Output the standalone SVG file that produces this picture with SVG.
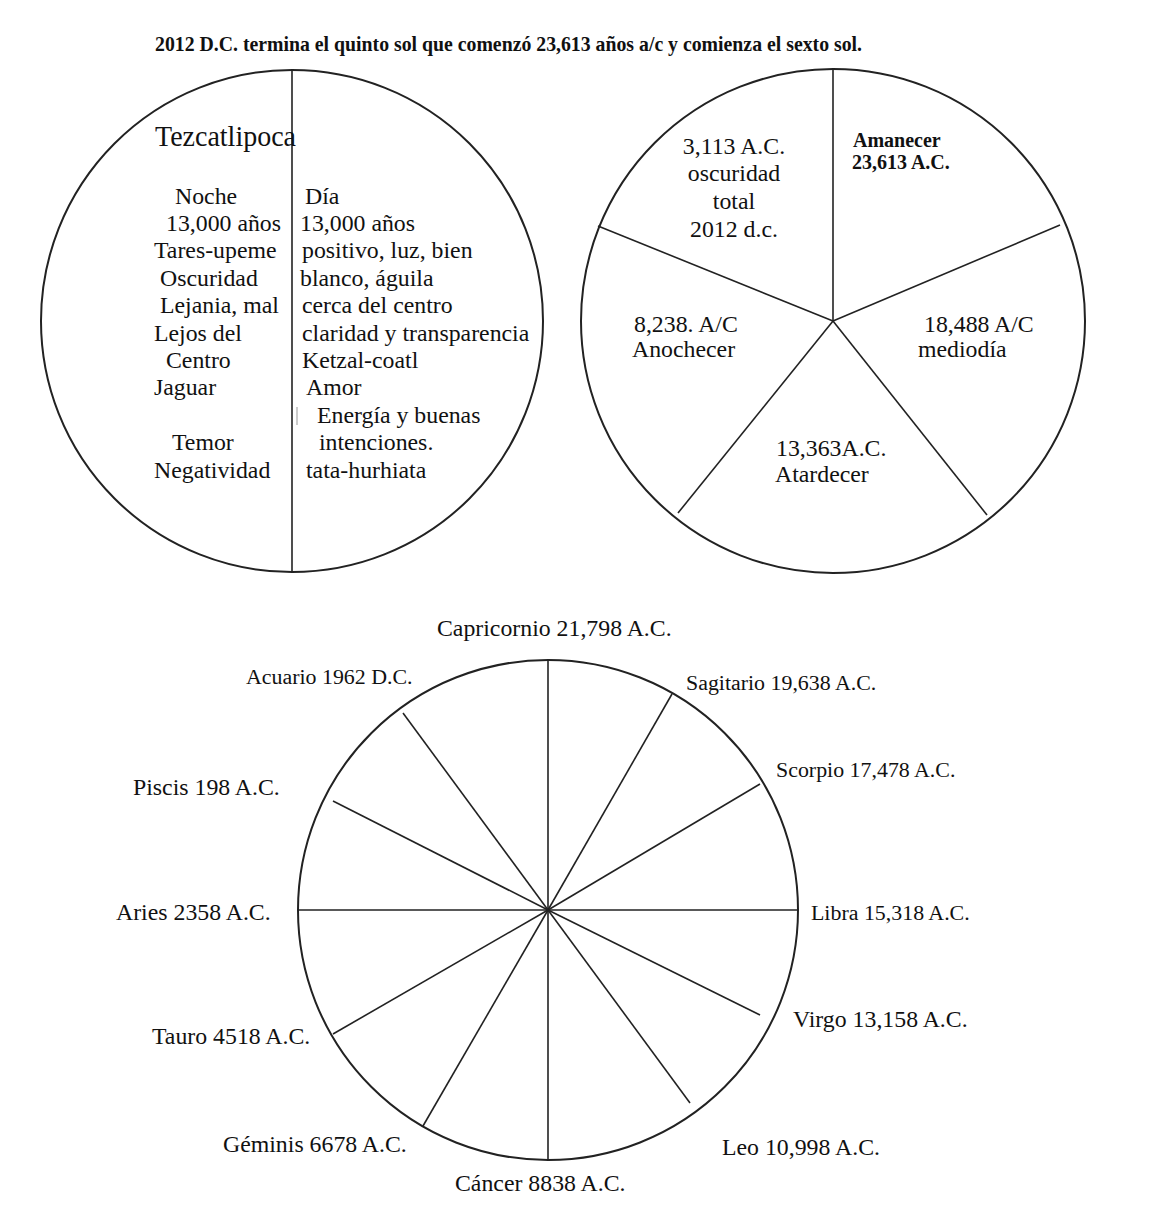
<svg xmlns="http://www.w3.org/2000/svg" width="1163" height="1224" viewBox="0 0 1163 1224">
<style>
text{font-family:"Liberation Serif","Times New Roman",serif;font-size:23.8px;fill:#111}
.b{font-weight:bold}
.h{font-size:21px}
.t{font-size:29px}
.a{font-size:20px}
.k{font-size:21.9px}
.c{fill:#fff;stroke:#222;stroke-width:2}
.s{stroke:#222;stroke-width:1.6;fill:none}
.m{text-anchor:middle}
</style>
<rect width="1163" height="1224" fill="#fff"/>
<text id="title" class="b h" x="155" y="51" textLength="707" lengthAdjust="spacingAndGlyphs">2012 D.C. termina el quinto sol que comenzó 23,613 años a/c y comienza el sexto sol.</text>

<g id="circle-tezcatlipoca">
<circle class="c" cx="292" cy="321" r="251"/>
<line class="s" x1="292" y1="71" x2="292" y2="572" stroke-width="2"/>
<line x1="297" y1="407" x2="297" y2="425" stroke="#999" stroke-width="1"/>
<text class="t" x="155" y="146" textLength="141" lengthAdjust="spacingAndGlyphs">Tezcatlipoca</text>
<text x="175" y="204">Noche</text>
<text x="166" y="231">13,000 años</text>
<text x="154" y="258">Tares-upeme</text>
<text x="160" y="286">Oscuridad</text>
<text x="160" y="313">Lejania, mal</text>
<text x="154" y="341">Lejos del</text>
<text x="166" y="368">Centro</text>
<text x="154" y="395">Jaguar</text>
<text x="172" y="450">Temor</text>
<text x="154" y="478">Negatividad</text>
<text x="305" y="204">Día</text>
<text x="300" y="231">13,000 años</text>
<text x="302" y="258">positivo, luz, bien</text>
<text x="300" y="286">blanco, águila</text>
<text x="302" y="313">cerca del centro</text>
<text x="302" y="341">claridad y transparencia</text>
<text x="302" y="368">Ketzal-coatl</text>
<text x="306" y="395">Amor</text>
<text x="317" y="423">Energía y buenas</text>
<text x="319" y="450">intenciones.</text>
<text x="306" y="478">tata-hurhiata</text>
</g>

<g id="circle-soles">
<circle class="c" cx="833" cy="321" r="252"/>
<g class="s">
<line x1="833" y1="321" x2="833" y2="69"/>
<line x1="833" y1="321" x2="1060" y2="225"/>
<line x1="833" y1="321" x2="987" y2="515"/>
<line x1="833" y1="321" x2="678" y2="513"/>
<line x1="833" y1="321" x2="598" y2="226"/>
</g>
<text class="m" x="734" y="154">3,113 A.C.</text>
<text class="m" x="734" y="181">oscuridad</text>
<text class="m" x="734" y="209">total</text>
<text class="m" x="734" y="237">2012 d.c.</text>
<text class="b a" x="853" y="147">Amanecer</text>
<text class="b a" x="852" y="169">23,613 A.C.</text>
<text x="634" y="332">8,238. A/C</text>
<text x="632" y="357">Anochecer</text>
<text x="924" y="332">18,488 A/C</text>
<text x="918" y="357">mediodía</text>
<text x="776" y="456">13,363A.C.</text>
<text x="775" y="482">Atardecer</text>
</g>

<g id="circle-zodiaco">
<circle class="c" cx="548" cy="910" r="250"/>
<g class="s">
<line x1="548" y1="910" x2="548" y2="660"/>
<line x1="548" y1="910" x2="672" y2="694"/>
<line x1="548" y1="910" x2="760" y2="784"/>
<line x1="548" y1="910" x2="798" y2="910"/>
<line x1="548" y1="910" x2="760" y2="1015"/>
<line x1="548" y1="910" x2="690" y2="1103"/>
<line x1="548" y1="910" x2="548" y2="1160"/>
<line x1="548" y1="910" x2="423" y2="1126"/>
<line x1="548" y1="910" x2="333" y2="1034"/>
<line x1="548" y1="910" x2="298" y2="910"/>
<line x1="548" y1="910" x2="333" y2="801"/>
<line x1="548" y1="910" x2="403" y2="713"/>
</g>
<text x="437" y="636">Capricornio 21,798 A.C.</text>
<text class="k" x="246" y="684">Acuario 1962 D.C.</text>
<text class="k" x="686" y="690">Sagitario 19,638 A.C.</text>
<text class="k" x="776" y="777">Scorpio 17,478 A.C.</text>
<text x="133" y="795">Piscis 198 A.C.</text>
<text x="116" y="920">Aries 2358 A.C.</text>
<text class="k" x="811" y="920">Libra 15,318 A.C.</text>
<text x="793" y="1027">Virgo 13,158 A.C.</text>
<text x="152" y="1044">Tauro 4518 A.C.</text>
<text x="223" y="1152">Géminis 6678 A.C.</text>
<text x="722" y="1155">Leo 10,998 A.C.</text>
<text x="455" y="1191">Cáncer 8838 A.C.</text>
</g>
</svg>
